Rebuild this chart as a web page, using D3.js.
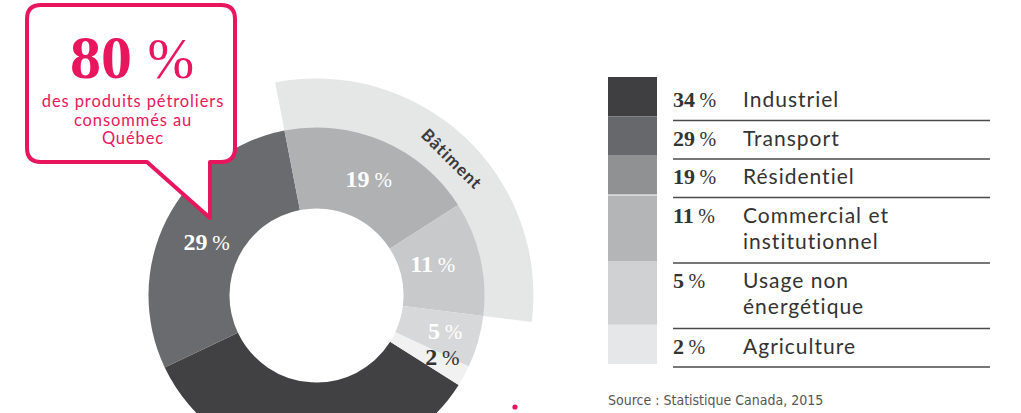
<!DOCTYPE html>
<html>
<head>
<meta charset="utf-8">
<script src="https://cdn.jsdelivr.net/npm/d3@7"></script>
<style>
  body { margin: 0; background: #fff; }
  svg { display: block; }
</style>
</head>
<body>
<svg id="chart" width="1021" height="413"></svg>
<script>
// data
const sectors = ["Industriel", "Transport", "Résidentiel", "Commercial et institutionnel", "Usage non énergétique", "Agriculture"];
const legendLines = [["Industriel"], ["Transport"], ["Résidentiel"], ["Commercial et", "institutionnel"], ["Usage non", "énergétique"], ["Agriculture"]];
const shares = [34, 29, 19, 11, 5, 2];
const groupName = "Bâtiment";
const groupMembers = ["Résidentiel", "Commercial et institutionnel"];
const calloutValue = "80";
const calloutLines = ["des produits pétroliers", "consommés au", "Québec"];
const sourceText = "Source : Statistique Canada, 2015";

const ringColors = ["#414143", "#6a6b6e", "#b0b1b3", "#c8c9cb", "#d7d8d9", "#f0f1f0"];
const swatchColors = ["#3f3f41", "#67686b", "#909193", "#b4b5b7", "#d0d1d3", "#e6e7e8"];
const pink = "#e8175d";
const serif = "'Liberation Serif', 'DejaVu Serif', serif";
const sans = "Lato, 'Noto Sans', sans-serif";

const svg = d3.select("#chart");
svg.append("rect").attr("width", 1021).attr("height", 413).attr("fill", "#fff");

// donut
const cx = 316.5, cy = 295.5;
const rIn = 87, rOut = 168, rBand = 217;
const start = 122.2 * Math.PI / 180;

const pie = d3.pie().sort(null).value(d => d)
    .startAngle(start).endAngle(start + 2 * Math.PI);
const slices = pie(shares);
const arc = d3.arc().innerRadius(rIn).outerRadius(rOut);

const g = svg.append("g").attr("transform", `translate(${cx},${cy})`);

// Bâtiment band behind the ring
const members = slices.filter((s, i) => groupMembers.includes(sectors[i]));
const bandArc = d3.arc().innerRadius(rOut - 2).outerRadius(rBand);
const band = {startAngle: d3.min(members, s => s.startAngle), endAngle: d3.max(members, s => s.endAngle)};
g.append("path").attr("d", bandArc(band)).attr("fill", "#e5e6e6");

g.selectAll(".slice")
    .data(slices)
    .enter().append("path")
    .attr("class", "slice")
    .attr("d", arc)
    .attr("fill", (d, i) => ringColors[i]);

// label for the band, turned along the arc
const midBand = (band.startAngle + band.endAngle) / 2 + 0.03;
const rLab = 192;
g.append("text")
    .attr("transform", `translate(${rLab * Math.sin(midBand)},${-rLab * Math.cos(midBand)}) rotate(${midBand * 180 / Math.PI})`)
    .attr("text-anchor", "middle")
    .attr("dy", "0.35em")
    .style("font-family", sans)
    .style("font-weight", 700)
    .style("font-size", "17px")
    .style("letter-spacing", "1px")
    .style("fill", "#3a3a3c")
    .text(groupName);

// slice labels (the Industriel one sits below the visible area)
const nudge = [[0, 0], [4, 4], [2, 0], [-8, -4], [6, 0], [14, 0]];
const labels = g.selectAll(".lbl")
    .data(slices.filter((d, i) => i > 0))
    .enter().append("text")
    .attr("class", "lbl")
    .attr("x", d => arc.centroid(d)[0] + nudge[d.index][0])
    .attr("y", d => arc.centroid(d)[1] + nudge[d.index][1])
    .attr("dy", "0.35em")
    .attr("text-anchor", "middle")
    .style("font-family", serif)
    .style("font-size", "24px")
    .style("fill", d => d.index === 5 ? "#333" : "#fff");
labels.append("tspan").style("font-weight", 700).text(d => d.value + "\u2009");
labels.append("tspan").style("font-weight", 400).style("font-size", "21px").text("%");

// callout bubble
const x0 = 27, x1 = 235, y0 = 5, y1 = 162, r = 14;
const tipX = 210, tipY = 218, baseL = 147;
const bubble = d3.path();
bubble.moveTo(x0 + r, y0);
bubble.lineTo(x1 - r, y0);
bubble.quadraticCurveTo(x1, y0, x1, y0 + r);
bubble.lineTo(x1, y1 - r);
bubble.quadraticCurveTo(x1, y1, x1 - r, y1);
bubble.lineTo(tipX, y1);
bubble.lineTo(tipX, tipY);
bubble.lineTo(baseL, y1);
bubble.lineTo(x0 + r, y1);
bubble.quadraticCurveTo(x0, y1, x0, y1 - r);
bubble.lineTo(x0, y0 + r);
bubble.quadraticCurveTo(x0, y0, x0 + r, y0);
bubble.closePath();
svg.append("path").attr("d", bubble.toString())
    .attr("fill", "#fff").attr("stroke", pink).attr("stroke-width", 4)
    .attr("stroke-linejoin", "round");

const big = svg.append("text")
    .attr("x", 132).attr("y", 78)
    .attr("text-anchor", "middle")
    .style("font-family", serif)
    .style("font-size", "62px")
    .style("fill", pink);
big.append("tspan").style("font-weight", 700).text(calloutValue + " ");
big.append("tspan").style("font-weight", 400).style("font-size", "56px").text("%");

svg.selectAll(".sub")
    .data(calloutLines)
    .enter().append("text")
    .attr("class", "sub")
    .attr("x", 133)
    .attr("y", (d, i) => 107 + i * 18.5)
    .attr("text-anchor", "middle")
    .style("font-family", sans)
    .style("font-size", "16.5px")
    .style("letter-spacing", "0.9px")
    .style("fill", pink)
    .text(d => d);

// small pink dot at the bottom edge
svg.append("circle").attr("cx", 515).attr("cy", 407).attr("r", 2.6).attr("fill", pink);

// legend
const lx = 608, sw = 49, tx = 673, lineEnd = 990;
const rowH = n => n === 1 ? 38.5 : 65.5;
let rowTop = 82;
const rows = legendLines.map((lines, i) => {
    const row = {i, lines, y: rowTop, h: rowH(lines.length)};
    rowTop += row.h;
    return row;
});

const leg = svg.append("g");
leg.selectAll(".sw")
    .data(rows)
    .enter().append("rect")
    .attr("class", "sw")
    .attr("x", lx)
    .attr("y", d => d.i === 0 ? 77 : d.y - 4 + (d.lines.length > 1 ? 2 : 0))
    .attr("width", sw)
    .attr("height", d => d.h + 1)
    .attr("fill", d => swatchColors[d.i]);

leg.selectAll(".rule")
    .data(rows)
    .enter().append("line")
    .attr("class", "rule")
    .attr("x1", tx).attr("x2", lineEnd)
    .attr("y1", d => d.y + d.h).attr("y2", d => d.y + d.h)
    .attr("stroke", "#4a4a4c").attr("stroke-width", 1.3);

const pct = leg.selectAll(".pct")
    .data(rows)
    .enter().append("text")
    .attr("class", "pct")
    .attr("x", tx)
    .attr("y", d => d.y + 25)
    .style("font-family", serif)
    .style("font-size", "22px")
    .style("fill", "#333");
pct.append("tspan").style("font-weight", 700).text(d => shares[d.i] + "\u2009");
pct.append("tspan").style("font-weight", 400).style("font-size", "20px").text("%");

leg.selectAll(".name")
    .data(rows)
    .enter().append("text")
    .attr("class", "name")
    .attr("x", 743)
    .attr("y", d => d.y + 25)
    .style("font-family", sans)
    .style("font-size", "21px")
    .style("letter-spacing", "1px")
    .style("fill", "#333")
    .selectAll("tspan")
    .data(d => d.lines)
    .enter().append("tspan")
    .attr("x", 743)
    .attr("dy", (d, i) => i === 0 ? 0 : 26)
    .text(d => d);

svg.append("text")
    .attr("x", lx).attr("y", 405)
    .style("font-family", "'Liberation Sans Narrow', 'DejaVu Sans Condensed', sans-serif")
    .style("font-size", "14px")
    .style("fill", "#555")
    .text(sourceText);
</script>
</body>
</html>
